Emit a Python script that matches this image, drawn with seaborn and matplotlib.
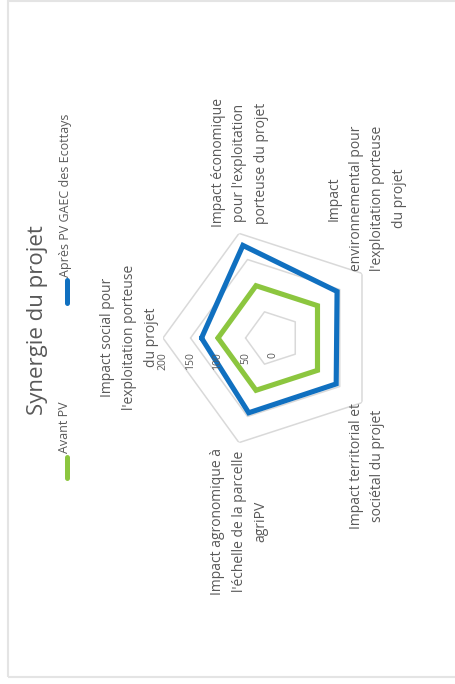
import numpy as np
import pandas as pd
import matplotlib
matplotlib.use("Agg")
import matplotlib.pyplot as plt
import seaborn as sns
from matplotlib.patches import Rectangle
from matplotlib.lines import Line2D

# ---------------- data ----------------
categories = [
    "Impact social pour\nl'exploitation porteuse\ndu projet",
    "Impact économique\npour l'exploitation\nporteuse du projet",
    "Impact\nenvironnemental pour\nl'exploitation porteuse\ndu projet",
    "Impact territorial et\nsociétal du projet",
    "Impact agronomique à\nl'échelle de la parcelle\nagriPV",
]
avant_pv = [100, 100, 100, 100, 100]
apres_pv = [130, 177, 144, 142, 143]
series_names = ["Avant PV", "Après PV GAEC des Ecottays"]
tick_values = [0, 50, 100, 150, 200]
tick_labels = ["0", "50", "100", "150", "200"]
title = "Synergie du projet"

# ---------------- style ----------------
W, H = 455, 684
sns.set_theme(style="white")
plt.rcParams["font.family"] = ["Open Sans", "DejaVu Sans"]
TXT = "#595959"
GREEN = "#8cc63f"
BLUE = "#1070c0"
GRID = "#d9d9d9"

fig = plt.figure(figsize=(W / 100, H / 100), dpi=100)
fig.patch.set_facecolor("white")


def fx(px):
    return px / W


def fy(py):
    return 1 - py / H


# frame of the chart area
fig.add_artist(Rectangle((fx(8), fy(677)), fx(470) - fx(8), fy(0.5) - fy(677),
                         transform=fig.transFigure, fill=False,
                         edgecolor="#e4e4e4", lw=1.5))

# polar axes placed so that the radar centre is at (273, 338) px, R = 110 px
cx, cy, R = 273, 338, 110
ax = fig.add_axes([fx(cx - R), fy(cy + R), 2 * R / W, 2 * R / H], projection="polar")
ax.set_theta_offset(np.pi)
ax.set_theta_direction(-1)

n = len(categories)
theta = np.linspace(0, 2 * np.pi, n, endpoint=False)
theta_closed = np.append(theta, theta[0] + 2 * np.pi)

df = pd.DataFrame({
    "theta": np.concatenate([theta_closed, theta_closed]),
    "value": avant_pv + [avant_pv[0]] + apres_pv + [apres_pv[0]],
    "series": [series_names[0]] * (n + 1) + [series_names[1]] * (n + 1),
})

# pentagonal grid
for lvl in tick_values[1:]:
    ax.plot(theta_closed, [lvl] * (n + 1), color=GRID, lw=1.1, zorder=1)

sns.lineplot(data=df, x="theta", y="value", hue="series",
             palette={series_names[0]: GREEN, series_names[1]: BLUE},
             sort=False, estimator=None, linewidth=3.7, legend=False, ax=ax,
             solid_joinstyle="miter", zorder=3)

ax.set_ylim(0, tick_values[-1])
ax.grid(False)
ax.set_xticks([])
ax.set_yticks([])
ax.spines["polar"].set_visible(False)
ax.set_xlabel("")
ax.set_ylabel("")
ax.patch.set_alpha(0)

# category labels
label_layout = [
    ("right", "center", (-3, 0.5)),
    ("center", "bottom", (0.7, 4.3)),
    ("center", "bottom", (3.6, 1.4)),
    ("center", "top", (3.6, -0.5)),
    ("center", "top", (0, -3.6)),
]
for t, lab, (ha, va, off) in zip(theta, categories, label_layout):
    ax.annotate(lab, xy=(t, tick_values[-1]), xytext=off, textcoords="offset points",
                rotation=90, ha=ha, va=va, multialignment="center",
                fontsize=10, color=TXT, linespacing=1.62, annotation_clip=False)

# radial tick labels (along the first axis)
for v, s in zip(tick_values, tick_labels):
    ax.annotate(s, xy=(0, v), xytext=(0, -10), textcoords="offset points",
                rotation=90, ha="center", va="top", fontsize=7.5, color=TXT,
                annotation_clip=False)

# title
fig.text(fx(38), fy(320), title, rotation=90, ha="center", va="center",
         fontsize=16, color=TXT)

# legend
fig.add_artist(Line2D([fx(67), fx(67)], [fy(457), fy(478)], transform=fig.transFigure,
                      color=GREEN, lw=3.6))
fig.add_artist(Line2D([fx(67), fx(67)], [fy(280), fy(303)], transform=fig.transFigure,
                      color=BLUE, lw=3.6))
fig.text(fx(65), fy(453), series_names[0], rotation=90, ha="center", va="bottom",
         fontsize=9, color=TXT)
fig.text(fx(65), fy(277), series_names[1], rotation=90, ha="center", va="bottom",
         fontsize=9, color=TXT)

fig.savefig("out.png", dpi=100, facecolor="white")
